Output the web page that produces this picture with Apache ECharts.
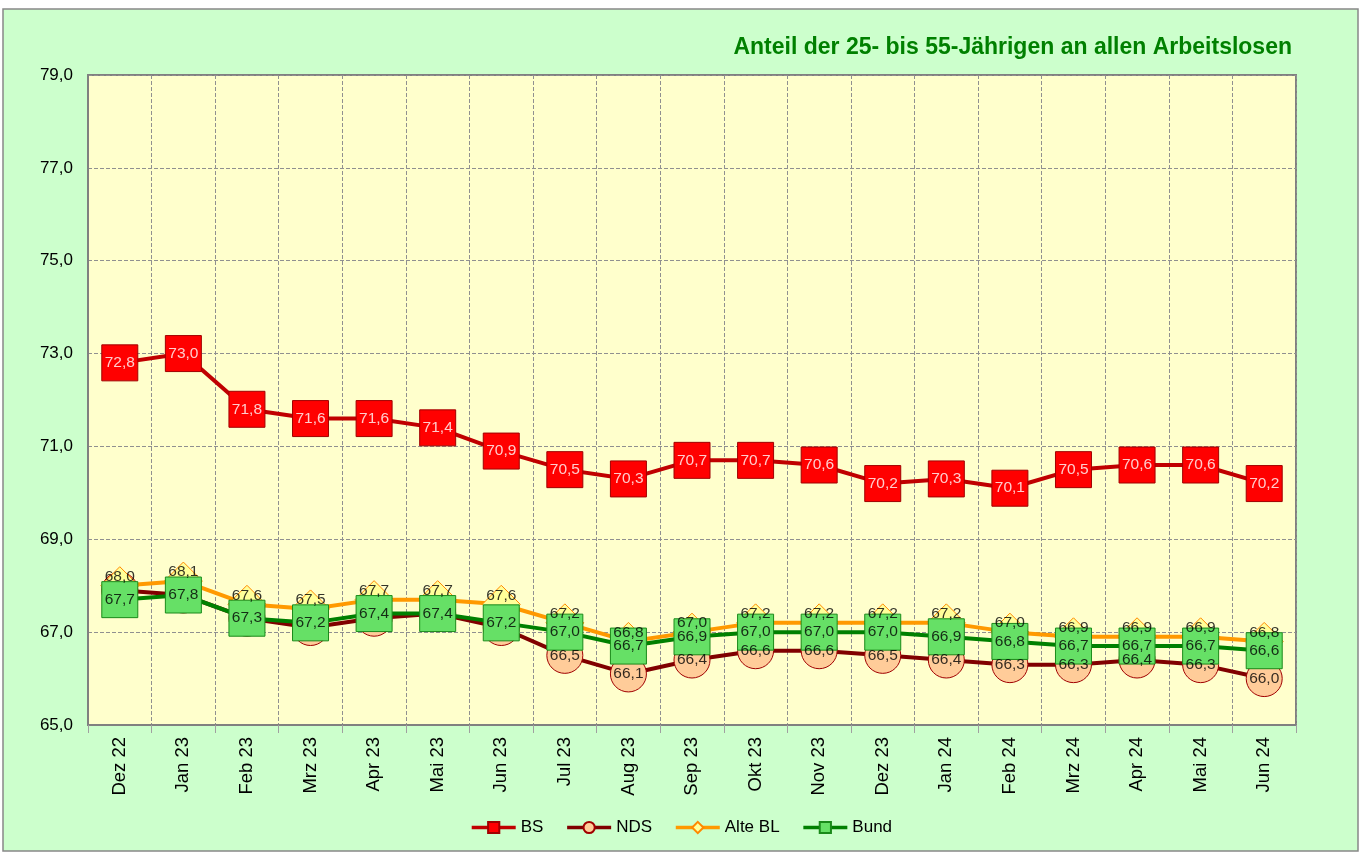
<!DOCTYPE html>
<html>
<head>
<meta charset="utf-8">
<script src="https://cdn.jsdelivr.net/npm/echarts@6/dist/echarts.min.js"></script>
<style>
  html, body { margin: 0; padding: 0; background: #fff; }
  #chart { width: 1362px; height: 853px; }
</style>
</head>
<body>
<div id="chart"></div>
<script>
// Monate
const categories = ['Dez 22', 'Jan 23', 'Feb 23', 'Mrz 23', 'Apr 23', 'Mai 23', 'Jun 23', 'Jul 23', 'Aug 23', 'Sep 23',
  'Okt 23', 'Nov 23', 'Dez 23', 'Jan 24', 'Feb 24', 'Mrz 24', 'Apr 24', 'Mai 24', 'Jun 24'];

// Anteile in %
const bsValues = [72.8, 73.0, 71.8, 71.6, 71.6, 71.4, 70.9, 70.5, 70.3, 70.7, 70.7, 70.6, 70.2, 70.3, 70.1, 70.5, 70.6, 70.6, 70.2];
const ndsValues = [67.9, 67.8, 67.3, 67.1, 67.3, 67.4, 67.1, 66.5, 66.1, 66.4, 66.6, 66.6, 66.5, 66.4, 66.3, 66.3, 66.4, 66.3, 66.0];
const alteBlValues = [68.0, 68.1, 67.6, 67.5, 67.7, 67.7, 67.6, 67.2, 66.8, 67.0, 67.2, 67.2, 67.2, 67.2, 67.0, 66.9, 66.9, 66.9, 66.8];
const bundValues = [67.7, 67.8, 67.3, 67.2, 67.4, 67.4, 67.2, 67.0, 66.7, 66.9, 67.0, 67.0, 67.0, 66.9, 66.8, 66.7, 66.7, 66.7, 66.6];

// NDS-Werte sind erst ab Jul 23 beschriftet (davor verdeckt)
const ndsLabelFrom = 7;

const fmt = (v) => v.toFixed(1).replace('.', ',');
const font = 'Liberation Sans, Arial, sans-serif';

// Beschriftungen liegen wie in Excel über allen Markern -> eigene unsichtbare Serien
const labelSeries = (name, data, color, offset, from) => ({
  name: name + '_label',
  type: 'scatter',
  data: data,
  symbolSize: 1,
  silent: true,
  itemStyle: { color: 'rgba(0,0,0,0)' },
  label: {
    show: true, position: 'inside', offset: offset, color: color, fontSize: 15.5, fontFamily: font,
    formatter: (p) => (p.dataIndex >= (from || 0) ? fmt(p.value) : '')
  },
  z: 20
});

const chart = echarts.init(document.getElementById('chart'));

chart.setOption({
  backgroundColor: '#ffffff',
  animation: false,
  textStyle: { fontFamily: font },
  graphic: [
    {
      type: 'rect',
      z: -10,
      shape: { x: 3, y: 9, width: 1355, height: 842 },
      style: { fill: '#ccffcc', stroke: '#888888', lineWidth: 1.5 }
    }
  ],
  title: {
    text: 'Anteil der 25- bis 55-Jährigen an allen Arbeitslosen',
    right: 65,
    top: 31,
    textStyle: { color: '#008000', fontSize: 23, fontWeight: 'bold', fontFamily: font }
  },
  legend: {
    bottom: 12,
    left: 'center',
    itemWidth: 44,
    itemHeight: 14,
    itemGap: 22,
    lineStyle: { width: 3.5 },
    textStyle: { fontSize: 17, color: '#000', fontFamily: font },
    data: ['BS', 'NDS', 'Alte BL', 'Bund']
  },
  grid: {
    left: 88,
    top: 75,
    right: 66,
    bottom: 128,
    show: true,
    backgroundColor: '#ffffcc',
    borderColor: '#808080',
    borderWidth: 2
  },
  xAxis: {
    type: 'category',
    data: categories,
    boundaryGap: true,
    axisLine: { lineStyle: { color: '#808080', width: 2 } },
    axisTick: { show: true, length: 8, lineStyle: { color: '#a0a0a0' } },
    axisLabel: { rotate: 90, fontSize: 18.5, color: '#000', margin: 12, fontFamily: font },
    splitLine: { show: true, lineStyle: { color: '#909090', type: 'dashed', width: 1 } }
  },
  yAxis: {
    type: 'value',
    min: 65,
    max: 79,
    interval: 2,
    axisLine: { show: true, lineStyle: { color: '#808080', width: 2 } },
    axisTick: { show: false },
    axisLabel: { fontSize: 17, color: '#000', margin: 15, formatter: fmt, fontFamily: font },
    splitLine: { lineStyle: { color: '#909090', type: 'dashed', width: 1 } }
  },
  series: [
    {
      name: 'BS',
      type: 'line',
      data: bsValues,
      symbol: 'rect',
      symbolSize: 36,
      lineStyle: { color: '#c00000', width: 4 },
      itemStyle: { color: '#ff0000', borderColor: '#a00000', borderWidth: 1 },
      z: 2
    },
    {
      name: 'NDS',
      type: 'line',
      data: ndsValues,
      symbol: 'circle',
      symbolSize: 36,
      lineStyle: { color: '#800000', width: 4 },
      itemStyle: { color: '#ffcc99', borderColor: '#a00000', borderWidth: 1 },
      z: 3
    },
    {
      name: 'Alte BL',
      type: 'line',
      data: alteBlValues,
      symbol: 'diamond',
      symbolSize: 38,
      lineStyle: { color: '#ff9900', width: 4 },
      itemStyle: { color: '#ffff99', borderColor: '#ff8800', borderWidth: 1 },
      z: 4
    },
    {
      name: 'Bund',
      type: 'line',
      data: bundValues,
      symbol: 'rect',
      symbolSize: 36,
      lineStyle: { color: '#008000', width: 4 },
      itemStyle: { color: '#66e066', borderColor: '#1a8a1a', borderWidth: 1 },
      z: 5
    },
    labelSeries('BS', bsValues, '#ffffff', [0, 0]),
    labelSeries('NDS', ndsValues, '#000000', [0, 0], ndsLabelFrom),
    labelSeries('Alte BL', alteBlValues, '#000000', [0, -9]),
    labelSeries('Bund', bundValues, '#000000', [0, 0])
  ]
});
</script>
</body>
</html>
